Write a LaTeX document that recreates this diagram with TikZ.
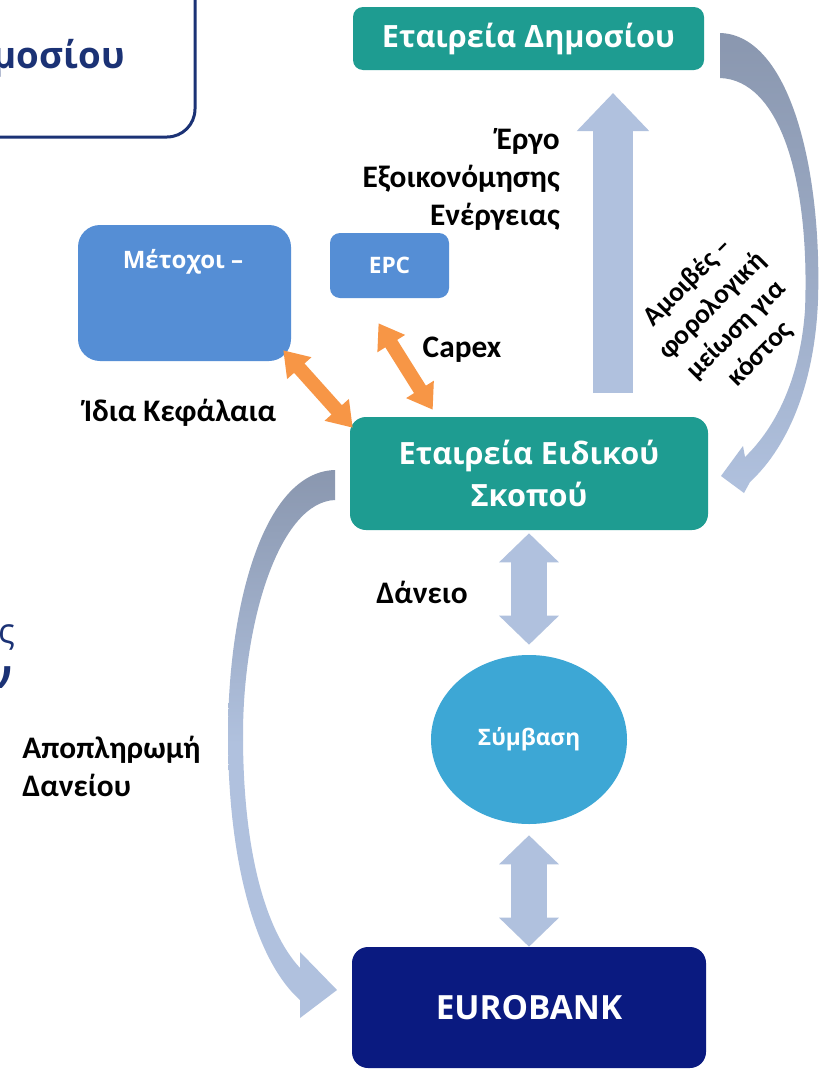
\documentclass[tikz,border=0pt]{standalone}
\usepackage{fontspec}
\setmainfont{Carlito}
\newfontfamily\osans{Open Sans}
\usetikzlibrary{arrows.meta,shapes.geometric,calc}
\definecolor{tealbox}{HTML}{1E9C91}
\definecolor{bluebox}{HTML}{558ED5}
\definecolor{ellblue}{HTML}{3DA7D5}
\definecolor{navybox}{HTML}{0A1A80}
\definecolor{lightarr}{HTML}{B0C1DE}
\definecolor{slatearr}{HTML}{8A97AF}
\definecolor{orangearr}{HTML}{F79646}
\definecolor{frame}{HTML}{1B3275}
\begin{document}
\begin{tikzpicture}[x=0.75pt,y=-0.75pt,
  nbox/.style args={#1/#2/#3/#4}{rectangle, rounded corners=#3, fill=#4, draw=none,
     minimum width=#1, minimum height=#2, inner sep=0pt, text=white, align=center},
  nfont/.style args={#1/#2}{font=\osans\bfseries\fontsize{#1}{#2}\selectfont},
  lbl/.style={font=\bfseries\fontsize{23.5}{28.5}\selectfont, text=black, inner sep=0pt},
  blockv/.style={draw=lightarr, line width=27pt,
     {Triangle[width=43.5pt,length=21.75pt]}-{Triangle[width=43.5pt,length=21.75pt]}},
  orangedbl/.style={draw=orangearr, line width=10.5pt,
     {Triangle[width=23.25pt,length=18pt]}-{Triangle[width=23.25pt,length=18pt]}}
]
\clip (0,0) rectangle (823,1071);
\fill[white] (0,0) rectangle (823,1071);

% top-left partial frame
\draw[frame, line width=2.25pt, rounded corners=21pt] (-60,-60) rectangle (195,137);
\node[anchor=base east, inner sep=0pt, text=frame, nfont=27.5/30] (tlt) at (125,68) {Δημοσίου};

% left partial glyphs
\node[anchor=east, inner sep=0pt, text=frame, font=\osans\fontsize{26}{28}\selectfont] (pg1) at (15,637) {ς};
\node[anchor=east, inner sep=0pt, text=frame, nfont=30/32] (pg2) at (13,678) {ν};

% curved arrows
\shade[top color=slatearr, bottom color=lightarr, middle color=slatearr!55!lightarr]
  (720,33) .. controls (790,35) and (822,170) .. (818,300)
  .. controls (815,380) and (790,445) .. (750,482)
  -- (744,493) -- (721,476) -- (743,446) -- (745,457)
  .. controls (775,428) and (800,380) .. (805,310)
  .. controls (810,180) and (780,80) .. (720,78) -- cycle;
\shade[top color=slatearr, bottom color=lightarr, middle color=lightarr]
  (335,470) .. controls (262,472) and (228,610) .. (228,735)
  .. controls (228,860) and (255,960) .. (300,1000)
  -- (300,1018) -- (337,990) -- (300,952) -- (300,968)
  .. controls (265,930) and (243,850) .. (243,735)
  .. controls (243,620) and (280,502) .. (335,500) -- cycle;

% nodes
\node[nbox=263.25pt/47.25pt/7.5pt/tealbox, nfont=23/29] (pub) at (528.5,38.5) {Εταιρεία Δημοσίου};
\node[nbox=268.5pt/84.75pt/12pt/tealbox, nfont=23/31] (spv) at (529,473.5) {Εταιρεία Ειδικού\\Σκοπού};
\node[nbox=159.75pt/102pt/16.5pt/bluebox] (met) at (184.5,293) {};
\node[inner sep=0pt, text=white, nfont=18/21] (metl) at (183,262) {Μέτοχοι –};
\node[nbox=89.25pt/48.75pt/7.5pt/bluebox, nfont=17/20] (epc) at (389.5,265.5) {EPC};
\node[ellipse, fill=ellblue, minimum width=147pt, minimum height=126.75pt, inner sep=0pt,
      text=white, nfont=17/20] (sym) at (529,739.5) {Σύμβαση};
\node[nbox=265.5pt/90.75pt/12pt/navybox, nfont=25/30] (bank) at (529,1007.5) {EUROBANK};

% straight block arrows
\coordinate (upS) at (613,393);
\coordinate (upE) at (613,93);
\draw[draw=lightarr, line width=30pt, -{Triangle[width=52.5pt,length=28.5pt]}] (upS) -- (upE);
\draw[blockv] ([yshift=-2.25pt]spv.south) -- ([yshift=7.5pt]sym.north);
\draw[blockv] ([yshift=-8.25pt]sym.south) -- (bank.north);
\draw[orangedbl] ([shift={(-8,-11)}]met.south east) -- ([shift={(3,11)}]spv.north west);
\draw[orangedbl] ([shift={(-11,25)}]epc.south) -- ([shift={(83,-7)}]spv.north west);

% labels
\node[lbl, align=right, anchor=north east] (ergo) at (560,128) {Έργο\\Εξοικονόμησης\\Ενέργειας};
\node[lbl] (idia) at (180,413) {Ίδια Κεφάλαια};
\node[lbl] (capex) at (462,350) {Capex};
\node[lbl] (dan) at (422,592) {Δάνειο};
\node[lbl, align=left, anchor=north west] (apo) at (22,736) {Αποπληρωμή\\Δανείου};
\node[font=\bfseries\fontsize{20.5}{25.5}\selectfont, align=center, rotate=45, inner sep=0pt] (amoi) at (724,318)
  {Αμοιβές –\\φορολογική\\μείωση για\\κόστος};
\end{tikzpicture}
\end{document}
